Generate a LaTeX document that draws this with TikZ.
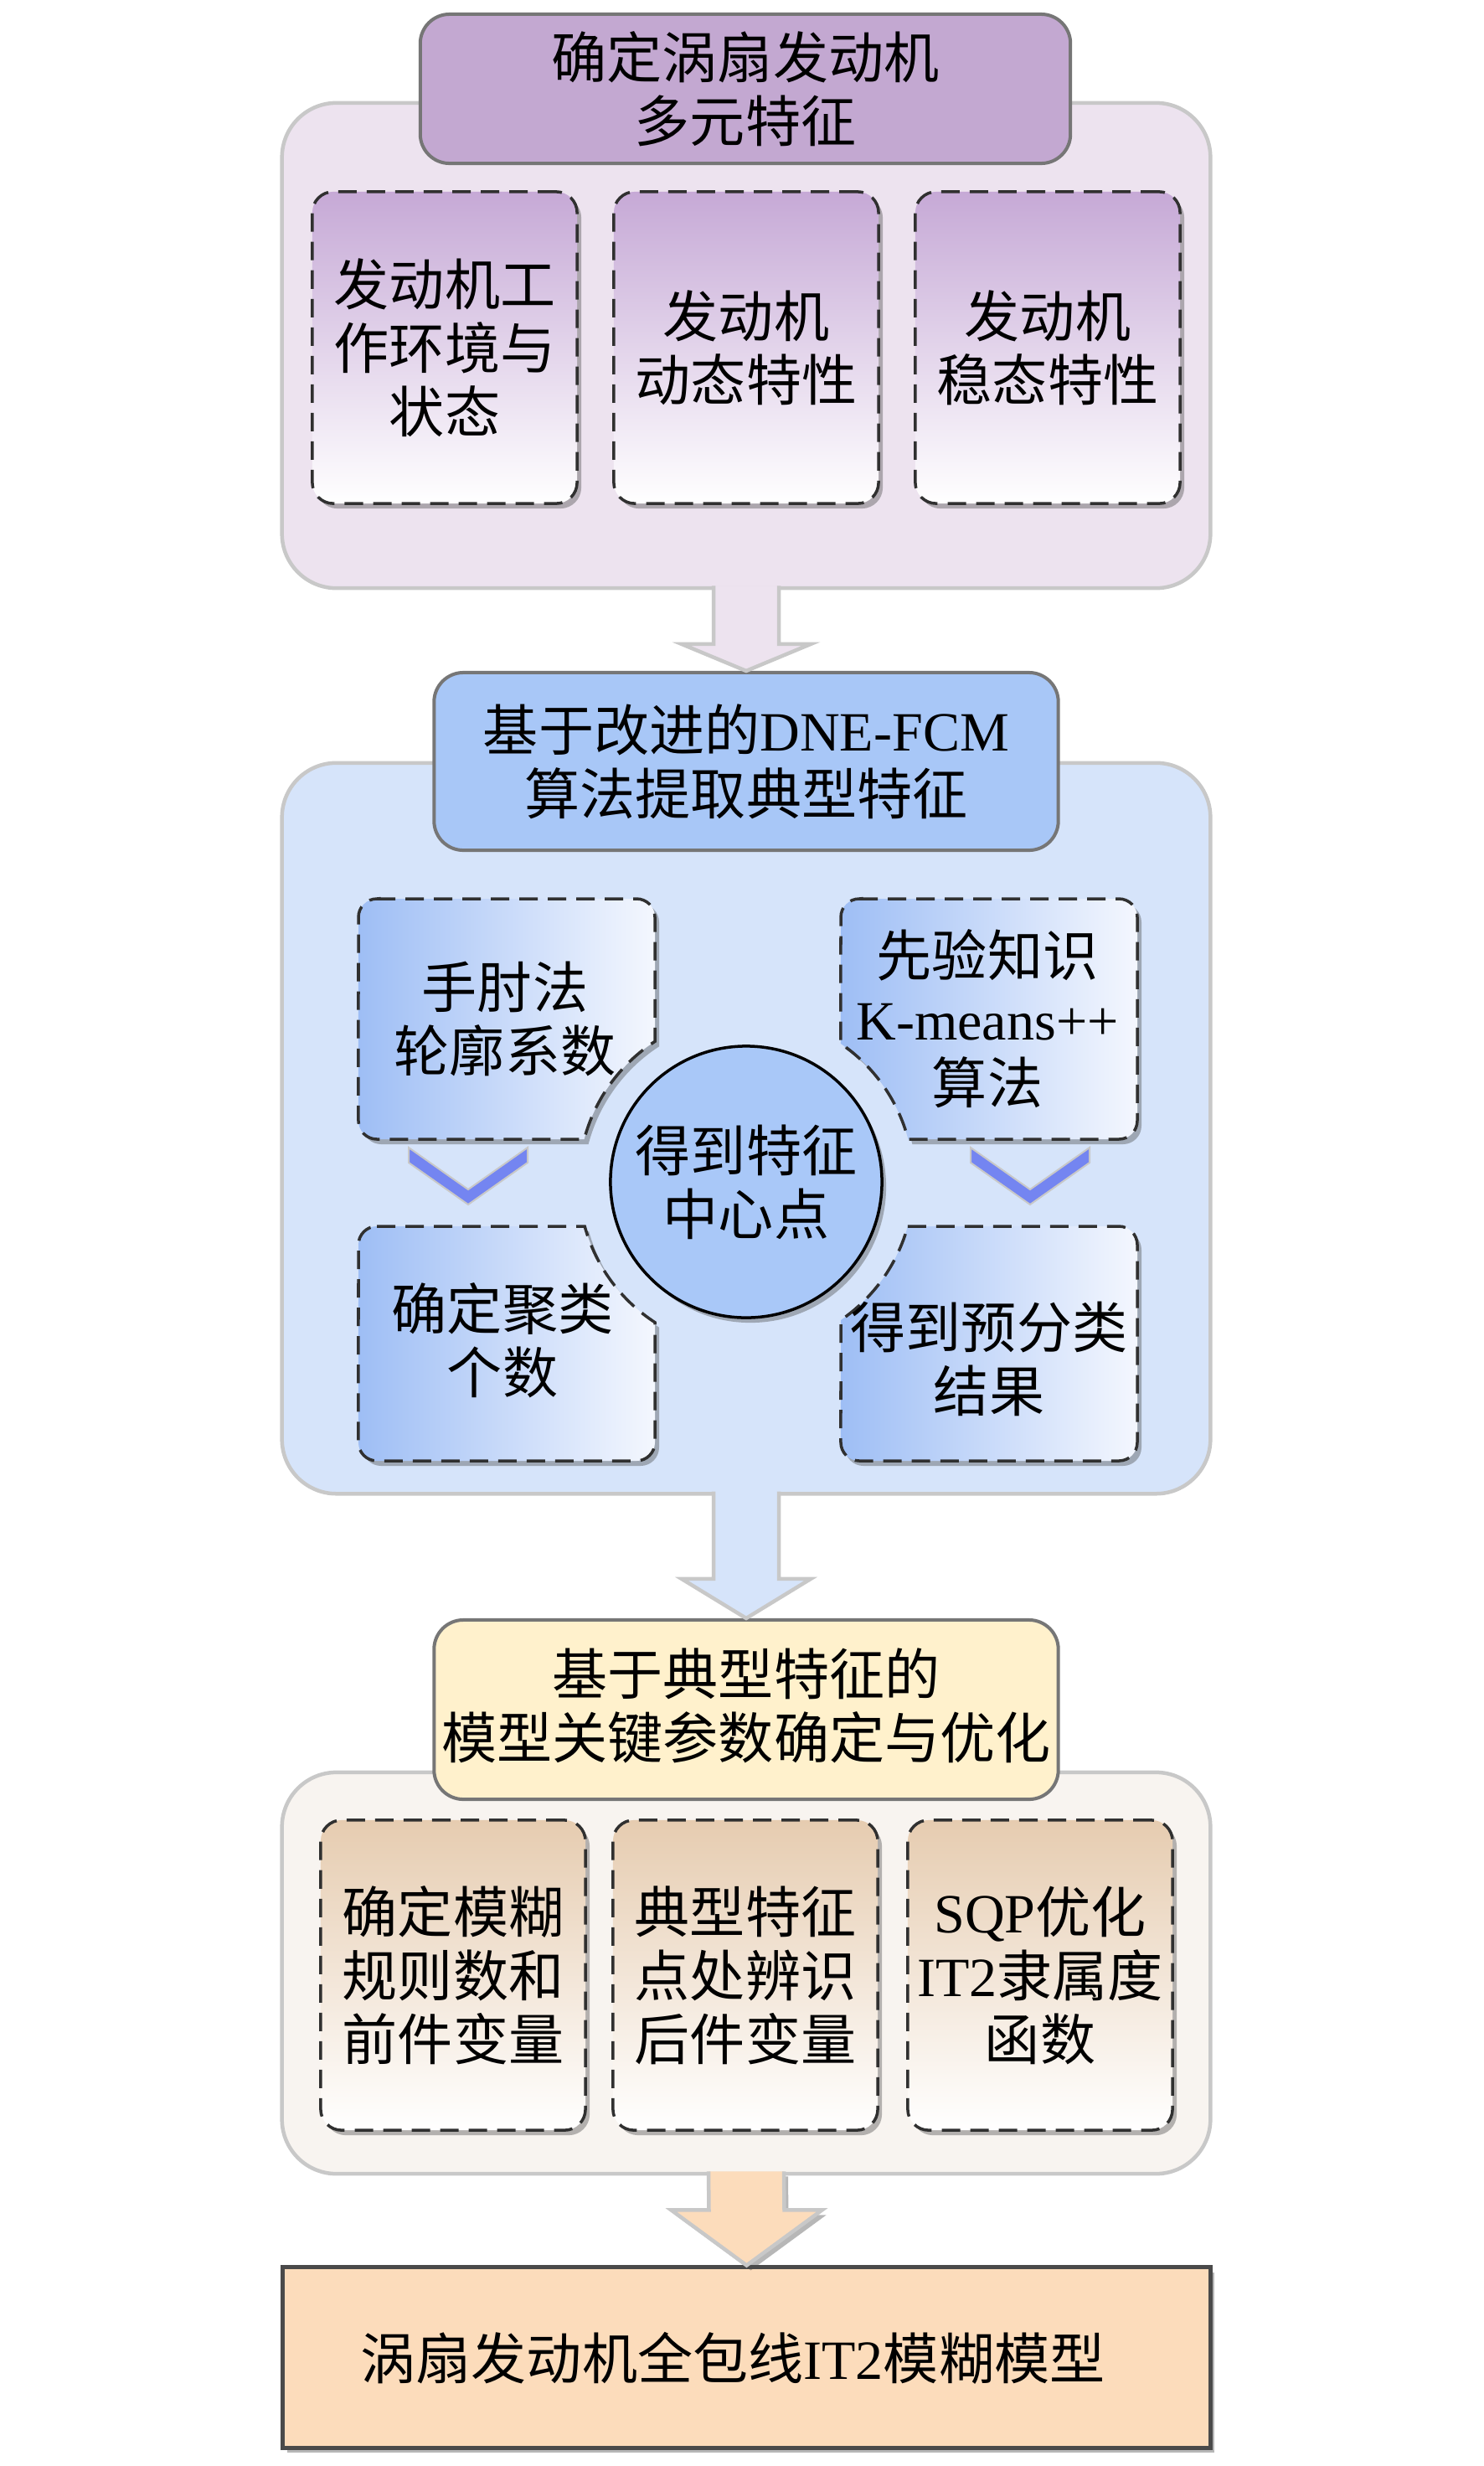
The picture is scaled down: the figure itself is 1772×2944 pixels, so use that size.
\documentclass[tikz,border=0pt]{standalone}
\usepackage{fontspec}
\setmainfont{Liberation Serif}
\newfontfamily\cjk{Noto Sans CJK SC}
\newcommand{\lat}[1]{{\rmfamily #1}}
\usetikzlibrary{calc,shadows}
\definecolor{lilacfill}{HTML}{EDE3EF}
\definecolor{contgray}{HTML}{C8C8C8}
\definecolor{lilactitle}{HTML}{C3A8D1}
\definecolor{titleborder}{HTML}{767676}
\definecolor{lilacgrad}{HTML}{C6A9D6}
\definecolor{bluefill}{HTML}{D6E4FA}
\definecolor{bluetitle}{HTML}{A8C7F7}
\definecolor{bluegrad}{HTML}{9EBEF5}
\definecolor{bluelight}{HTML}{F4F7FE}
\definecolor{circfill}{HTML}{A9C8F8}
\definecolor{chev}{HTML}{7485F1}
\definecolor{yellowtitle}{HTML}{FFF1CC}
\definecolor{warmfill}{HTML}{F8F4F0}
\definecolor{tangrad}{HTML}{E6CCB0}
\definecolor{peach}{HTML}{FCDCBB}
\definecolor{finalborder}{HTML}{4A4A4A}
\definecolor{dashcol}{HTML}{303030}
\begin{document}
\begin{tikzpicture}[x=0.01cm,y=-0.01cm,
  every node/.style={font=\fontsize{18.8}{21.6}\selectfont\cjk},
  softshadow/.style={drop shadow={shadow xshift=0.05cm, shadow yshift=-0.06cm, opacity=0.4, fill=black!70}},
  container/.style={draw=contgray, line width=0.045cm, rounded corners=0.65cm, minimum width=11.08cm},
  titlebox/.style={draw=titleborder, line width=0.04cm, rounded corners=0.35cm, align=center, inner sep=0},
  itembox/.style={draw=dashcol, line width=0.035cm, dash pattern=on 0.22cm off 0.12cm, rounded corners=0.25cm,
    minimum width=3.16cm, align=center, inner sep=0, softshadow},
  cutbox/.style={draw=dashcol, line width=0.035cm, dash pattern=on 0.22cm off 0.12cm,
    left color=bluegrad, right color=bluelight, softshadow},
  txt/.style={align=center, inner sep=0},
  blockarrow/.style={draw=contgray, line width=0.045cm},
  chevron/.style={draw=contgray, line width=0.02cm, fill=chev}
]
\useasboundingbox (0,0) rectangle (1772,2944);

% ---------- section 1 ----------
\node[container, fill=lilacfill, minimum height=5.79cm] (c1) at (891,412.5) {};
\node[titlebox, fill=lilactitle, minimum width=7.76cm, minimum height=1.78cm] (t1) at (890,106) {确定涡扇发动机\\多元特征};
\node[itembox, top color=lilacgrad, middle color=lilacgrad!75!white, bottom color=white, minimum height=3.72cm] (b11) at (531,415) {发动机工\\作环境与\\状态};
\node[itembox, top color=lilacgrad, middle color=lilacgrad!75!white, bottom color=white, minimum height=3.72cm] (b12) at (891,415) {发动机\\动态特性};
\node[itembox, top color=lilacgrad, middle color=lilacgrad!75!white, bottom color=white, minimum height=3.72cm] (b13) at (1251,415) {发动机\\稳态特性};

% ---------- section 2 ----------
\node[container, fill=bluefill, minimum height=8.72cm] (c2) at (891,1347) {};
\node[titlebox, fill=bluetitle, minimum width=7.45cm, minimum height=2.12cm] (t2) at (891,909) {基于改进的\lat{DNE-FCM}\\算法提取典型特征};

\draw[cutbox] (450,1073) -- (760,1073) arc[start angle=90,end angle=0,radius=0.22cm] -- (782,1243.3)
  arc[start angle=123.03,end angle=165.23,radius=2cm] -- (450,1360) arc[start angle=270,end angle=180,radius=0.22cm]
  -- (428,1095) arc[start angle=180,end angle=90,radius=0.22cm] -- cycle;
\draw[cutbox] (1026,1073) -- (1336,1073) arc[start angle=90,end angle=0,radius=0.22cm] -- (1358,1338)
  arc[start angle=0,end angle=-90,radius=0.22cm] -- (1084.4,1360) arc[start angle=14.77,end angle=55.6,radius=2cm]
  -- (1004,1095) arc[start angle=180,end angle=90,radius=0.22cm] -- cycle;
\draw[cutbox] (450,1464) -- (698.2,1464) arc[start angle=195.37,end angle=236.97,radius=2cm] -- (782,1722)
  arc[start angle=0,end angle=-90,radius=0.22cm] -- (450,1744) arc[start angle=270,end angle=180,radius=0.22cm]
  -- (428,1486) arc[start angle=180,end angle=90,radius=0.22cm] -- cycle;
\draw[cutbox] (1083.85,1464) -- (1336,1464) arc[start angle=90,end angle=0,radius=0.22cm] -- (1358,1722)
  arc[start angle=0,end angle=-90,radius=0.22cm] -- (1026,1744) arc[start angle=270,end angle=180,radius=0.22cm]
  -- (1004,1576) arc[start angle=-55.6,end angle=-15.37,radius=2cm] -- cycle;

\node[txt] (tl) at (603,1216) {手肘法\\轮廓系数};
\node[txt] (tr) at (1179,1216) {先验知识\\\lat{K-means++}\\算法};
\node[txt] (bl) at (600,1600) {确定聚类\\个数};
\node[txt] (br) at (1181,1622) {得到预分类\\结果};

\node[circle, draw=black, line width=0.035cm, fill=circfill, minimum size=3.24cm, inner sep=0, align=center, softshadow] (cc) at (891,1411) {得到特征\\中心点};

\draw[chevron] (488,1370) -- (559,1420) -- (630,1370) -- (630,1388) -- (559,1438) -- (488,1388) -- cycle;
\draw[chevron] (1159,1370) -- (1230,1420) -- (1301,1370) -- (1301,1388) -- (1230,1438) -- (1159,1388) -- cycle;

% ---------- section 3 ----------
\node[container, fill=warmfill, minimum height=4.79cm] (c3) at (891,2355.5) {};
\node[titlebox, fill=yellowtitle, minimum width=7.45cm, minimum height=2.14cm] (t3) at (891,2041) {};
\node[txt] (t3t) at (891,2036) {基于典型特征的\\模型关键参数确定与优化};
\node[itembox, top color=tangrad, middle color=tangrad!75!white, bottom color=white, minimum height=3.70cm] (b31) at (541,2358) {确定模糊\\规则数和\\前件变量};
\node[itembox, top color=tangrad, middle color=tangrad!75!white, bottom color=white, minimum height=3.70cm] (b32) at (890,2358) {典型特征\\点处辨识\\后件变量};
\node[itembox, top color=tangrad, middle color=tangrad!75!white, bottom color=white, minimum height=3.70cm] (b33) at (1242,2358) {\lat{SQP}优化\\\lat{IT2}隶属度\\函数};

% ---------- final ----------
\node[draw=finalborder, line width=0.05cm, fill=peach, minimum width=11.07cm, minimum height=2.15cm, softshadow] (fin) at (891.5,2814.5) {};
\node[txt] (fint) at (875,2815) {涡扇发动机全包线\lat{IT2}模糊模型};

% ---------- block arrows ----------
\draw[blockarrow, fill=lilacfill] ($(c1.south)+(-39,-5)$) -- ($(t2.north)+(-39,-32)$) -- ($(t2.north)+(-77,-32)$)
  -- (t2.north) -- ($(t2.north)+(77,-32)$) -- ($(t2.north)+(39,-32)$) -- ($(c1.south)+(39,-5)$);
\draw[blockarrow, fill=bluefill] ($(c2.south)+(-39,-5)$) -- ($(t3.north)+(-39,-47)$) -- ($(t3.north)+(-77,-47)$)
  -- (t3.north) -- ($(t3.north)+(77,-47)$) -- ($(t3.north)+(39,-47)$) -- ($(c2.south)+(39,-5)$);
\draw[blockarrow, fill=peach, softshadow] ($(c3.south)+(-45,-5)$) -- ($(fin.north)+(-45,-66)$) -- ($(fin.north)+(-90,-66)$)
  -- (fin.north) -- ($(fin.north)+(90,-66)$) -- ($(fin.north)+(45,-66)$) -- ($(c3.south)+(45,-5)$);
\end{tikzpicture}
\end{document}
